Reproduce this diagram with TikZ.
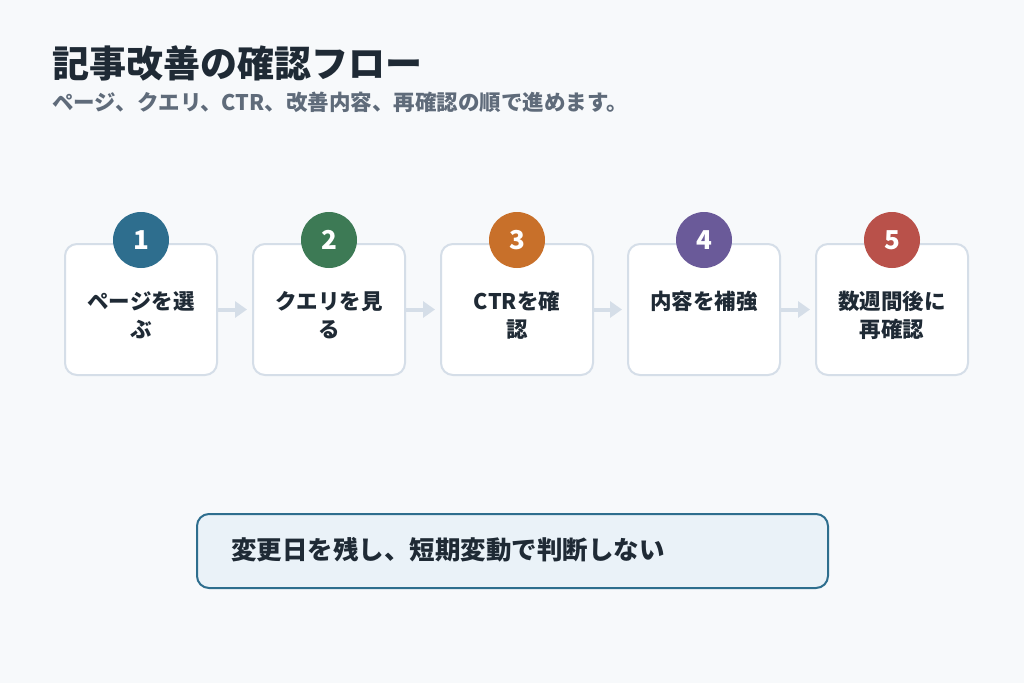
\documentclass[tikz,border=0pt]{standalone}
\usepackage{fontspec}
\setmainfont{Noto Sans CJK JP}
\usetikzlibrary{arrows.meta}
\definecolor{bg}{HTML}{F7F9FB}
\definecolor{ink}{HTML}{1F2A35}
\definecolor{sub}{HTML}{5F6B7A}
\definecolor{edge}{HTML}{D5DEE8}
\definecolor{cA}{HTML}{2E6E8E}
\definecolor{cB}{HTML}{3D7A55}
\definecolor{cC}{HTML}{C8702A}
\definecolor{cD}{HTML}{6A5A99}
\definecolor{cE}{HTML}{B9514A}
\definecolor{notefill}{HTML}{EAF2F8}
\tikzset{
  stepbox/.style={draw=edge, line width=2pt, fill=white, rounded corners=12pt,
    minimum width=152pt, minimum height=131pt, inner sep=0pt},
  steptext/.style={text=ink, font=\fontsize{21.5}{28}\selectfont\bfseries, align=center, inner sep=0pt},
  badge/.style={circle, minimum size=56pt, inner sep=0pt, text=white,
    font=\fontsize{26}{26}\selectfont\bfseries},
  flow/.style={draw=edge, line width=4pt, -{Triangle[length=12pt,width=16pt]}},
}
\begin{document}
\begin{tikzpicture}[x=1pt,y=-1pt]
\fill[bg] (0,0) rectangle (1024,683);
\useasboundingbox (0,0) rectangle (1024,683);
\node[anchor=base west, text=ink, font=\fontsize{37}{37}\selectfont\bfseries, inner sep=0pt] (title) at (52,77) {記事改善の確認フロー};
\node[anchor=base west, text=sub, font=\fontsize{21.5}{21.5}\selectfont\bfseries, inner sep=0pt] (subtitle) at (52,110) {ページ、クエリ、CTR、改善内容、再確認の順で進めます。};
\foreach \i/\x/\c/\t in {1/141/cA/{ページを選\\ぶ},2/329/cB/{クエリを見\\る},3/517/cC/{CTRを確\\認},4/704/cD/{内容を補強},5/892/cE/{数週間後に\\再確認}}{
  \node[stepbox] (s\i) at (\x,309.5) {};
  \node[steptext, anchor=north] (t\i) at (\x,291) {\t};
  \node[badge, fill=\c] (b\i) at (\x,240) {\i};
}
\foreach \a/\b in {1/2,2/3,3/4,4/5}{
  \draw[flow] (s\a.east) -- ([xshift=-5pt]s\b.west);
}
\node[draw=cA, line width=2pt, fill=notefill, rounded corners=12pt, minimum width=631pt, minimum height=74pt] (note) at (512.5,551) {};
\node[anchor=west, text=ink, font=\fontsize{25.5}{25.5}\selectfont\bfseries, inner sep=0pt] (notetext) at (231,550) {変更日を残し、短期変動で判断しない};
\end{tikzpicture}
\end{document}
